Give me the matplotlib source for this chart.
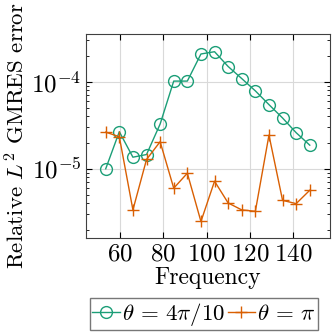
import numpy as np
import matplotlib.pyplot as plt

plt.rcParams['font.family'] = 'cmr10'
plt.rcParams['mathtext.fontset'] = 'cm'
plt.rcParams['axes.formatter.use_mathtext'] = True

# frequencies (odd multiples of pi)
freq = np.pi * np.arange(17, 48, 2)

err_green = [1.0e-5, 2.67e-5, 1.36e-5, 1.46e-5, 3.27e-5, 1.02e-4, 1.02e-4, 2.09e-4,
             2.22e-4, 1.50e-4, 1.09e-4, 7.87e-5, 5.47e-5, 3.84e-5, 2.60e-5, 1.87e-5]
err_orange = [2.64e-5, 2.34e-5, 3.37e-6, 1.28e-5, 2.05e-5, 5.99e-6, 8.9e-6, 2.48e-6,
              7.2e-6, 4.05e-6, 3.37e-6, 3.25e-6, 2.44e-5, 4.34e-6, 3.98e-6, 5.67e-6]

green = "#1b9e77"
orange = "#d95f02"

fig = plt.figure(figsize=(3.32, 3.32), dpi=100)
ax = fig.add_axes([0.259, 0.283, 0.735, 0.615])

ax.plot(freq, err_green, color=green, marker="o", mfc="none", ms=8.5, lw=1,
        mew=1, label=r"$\theta\,=\,4\pi/10$")
ax.plot(freq, err_orange, color=orange, marker="+", ms=9, lw=1,
        mew=1, label=r"$\theta\,=\,\pi$")

ax.set_yscale("log")
ax.set_xlim(44.3, 157)
ax.set_ylim(1.6e-6, 3.56e-4)
ax.set_xticks([60, 80, 100, 120, 140])
ax.set_yticks([1e-5, 1e-4])
ax.tick_params(which="both", direction="in", top=True, right=True, labelsize=18)
ax.tick_params(which="major", length=4)
ax.tick_params(which="minor", length=2.5)
ax.grid(True, which="major", color="#d9d9d9", lw=0.8)
ax.set_axisbelow(True)
for s in ax.spines.values():
    s.set_color("#404040")

ax.set_xlabel("Frequency", fontsize=17, labelpad=1)
ax.set_ylabel(r"Relative $L^2$ GMRES error", fontsize=16.5, labelpad=2)

ax.legend(loc="upper center", bbox_to_anchor=(0.484, -0.295), ncol=2, fontsize=16.5,
          frameon=True, fancybox=False, edgecolor="#555555", handlelength=1.2,
          handletextpad=0.1, columnspacing=0.1, borderpad=0.1, borderaxespad=0)

fig.savefig("out.png", dpi=100)
